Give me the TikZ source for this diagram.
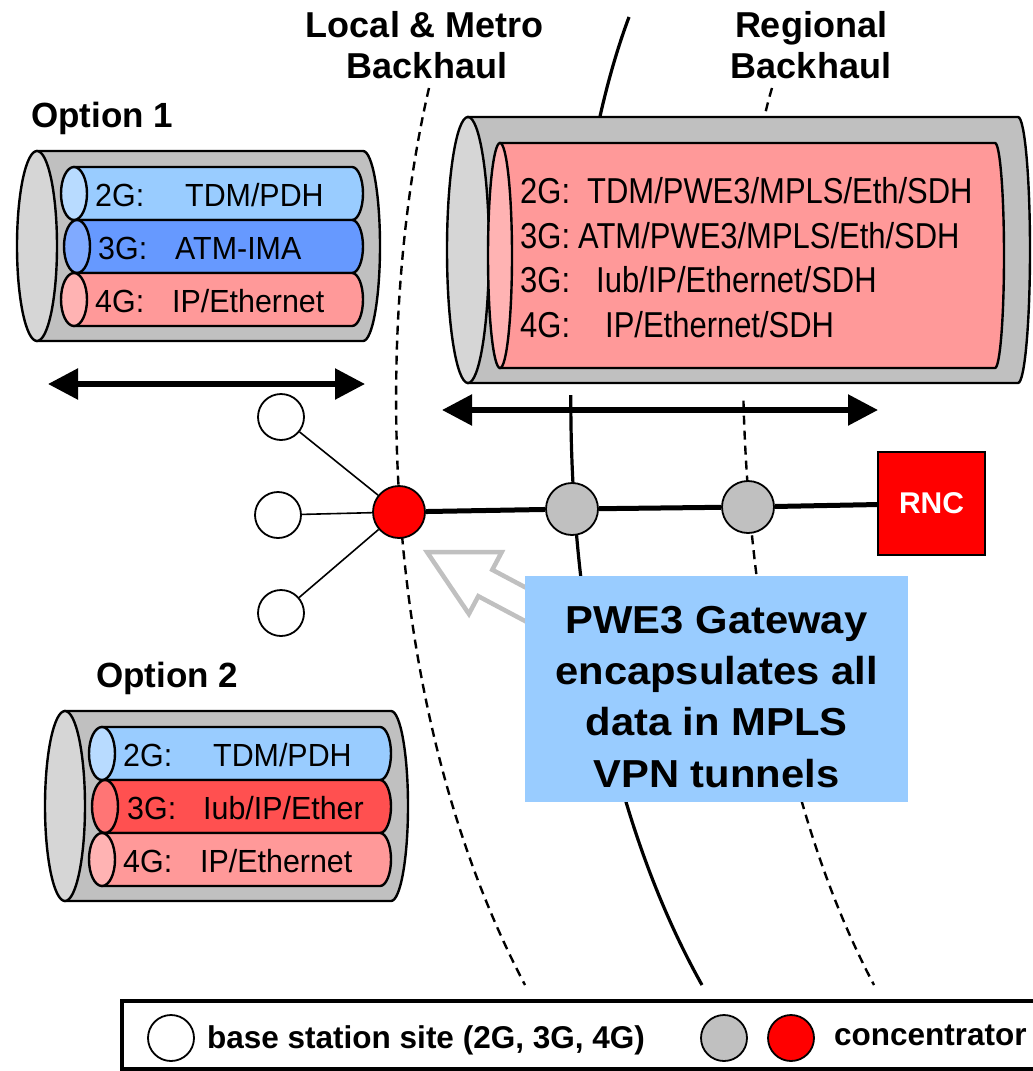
\documentclass[tikz,border=0pt]{standalone}
\usepackage{fontspec}
\setmainfont{Liberation Sans}
\newfontfamily\tubefont[FakeStretch=0.95]{Liberation Sans}
\newfontfamily\trunkfont[FakeStretch=0.86]{Liberation Sans}
\newfontfamily\notefont[FakeStretch=1.07]{Liberation Sans}
\usetikzlibrary{arrows.meta}

\definecolor{tubesky}{HTML}{99CCFF}
\definecolor{tubeskyface}{HTML}{B8DBFF}
\definecolor{tubeblue}{HTML}{6699FF}
\definecolor{tubeblueface}{HTML}{80AAFF}
\definecolor{tubepink}{HTML}{FF9999}
\definecolor{tubepinkface}{HTML}{FFB3B3}
\definecolor{tubered}{HTML}{FF5050}
\definecolor{tuberedface}{HTML}{FF7575}
\definecolor{shellgray}{HTML}{C0C0C0}
\definecolor{shellface}{HTML}{D6D6D6}
\definecolor{hubgray}{HTML}{C0C0C0}
\definecolor{hubred}{HTML}{FF0000}
\definecolor{notefill}{HTML}{99CCFF}

\newcommand\fsz[1]{\fontsize{#1}{#1}\selectfont}

\tikzset{
  every node/.style={inner sep=0pt},
  zone/.style={line width=2.4pt, dash pattern=on 9pt off 6pt},
  border/.style={line width=3.2pt},
  shell/.style={draw=black, line width=2.4pt, fill=shellgray},
  tubeline/.style={draw=black, line width=2.4pt},
  lbl/.style={anchor=base west, font=\tubefont\fsz{32}},
  biglbl/.style={anchor=base west, font=\trunkfont\fsz{36}},
  head/.style={anchor=base, font=\bfseries\fsz{36}},
  opt/.style={anchor=base west, font=\bfseries\fsz{35}},
  gwtext/.style={anchor=base, font=\notefont\bfseries\fsz{39}},
  legtext/.style={anchor=base west, font=\bfseries\fsz{31.5}},
  span/.style={line width=5.5pt,
    {Triangle[length=30pt,width=30pt]}-{Triangle[length=30pt,width=30pt]}},
  site/.style={circle, draw=black, line width=1.8pt, fill=white, minimum size=46pt},
  hub/.style={circle, draw=black, line width=1.8pt, minimum size=52pt},
  access/.style={line width=1.6pt},
  trunk/.style={line width=5pt},
  rncbox/.style={rectangle, draw=black, line width=1.6pt, fill=hubred,
    minimum width=107pt, minimum height=103pt, text=white, font=\bfseries\fsz{30}},
  gwbox/.style={rectangle, fill=notefill, minimum width=383pt, minimum height=226pt},
  hollow/.style={draw=shellgray, line width=4.5pt, line join=miter},
  frame/.style={draw=black, line width=3.8pt},
}

% one coloured tube: #1 top edge, #2 centre of its end face, #3 body colour, #4 face colour
\newcommand\drawtube[4]{%
  \draw[tubeline, fill=#3] (#2,#1) -- (352,#1)
    arc[start angle=90, end angle=-90, x radius=11pt, y radius=26.5pt]
    -- (#2,#1+53) -- cycle;
  \draw[tubeline, fill=#4] (#2,#1+26.5) ellipse[x radius=13pt, y radius=26.5pt];
}
% access cable with three tubes: #1 / #2 body and face colour of the middle tube
\newcommand\drawbundle[2]{%
  \draw[shell] (37,151) -- (363,151)
    arc[start angle=90, end angle=-90, x radius=17pt, y radius=95pt]
    -- (37,341) -- cycle;
  \draw[shell, fill=shellface] (37,246) ellipse[x radius=20pt, y radius=95pt];
  \drawtube{167}{74}{tubesky}{tubeskyface}
  \drawtube{220}{77}{#1}{#2}
  \drawtube{273}{74}{tubepink}{tubepinkface}
}

\begin{document}
\begin{tikzpicture}[x=1pt, y=-1pt]
\path[use as bounding box, clip] (0,0) rectangle (1033,1071);
\fill[white] (0,0) rectangle (1033,1071);

% backhaul zone boundaries
\draw[zone] (429,88) .. controls (375,320) and (375,700) .. (525,985);
\draw[border] (629,17) .. controls (542,250) and (542,700) .. (702,985);
\draw[zone] (772,88) .. controls (723,250) and (723,700) .. (874,985);
% clearance below the regional cable
\fill[white] (440,383) rectangle (1033,395);

% regional backhaul cable
\draw[shell] (468,117) -- (1018,117)
  arc[start angle=90, end angle=-90, x radius=12pt, y radius=133pt]
  -- (468,383) -- cycle;
\draw[shell, fill=shellface] (468,250) ellipse[x radius=21pt, y radius=133pt];
\draw[tubeline, fill=tubepink] (500,143) -- (995,143)
  arc[start angle=90, end angle=-90, x radius=9pt, y radius=112.5pt]
  -- (500,368) -- cycle;
\draw[tubeline, fill=tubepinkface] (500,255.5) ellipse[x radius=12pt, y radius=112.5pt];

\node[biglbl] (r1a) at (520,203) {2G:};
\node[biglbl] (r1b) at (587,203) {TDM/PWE3/MPLS/Eth/SDH};
\node[biglbl] (r2a) at (520,248) {3G:};
\node[biglbl] (r2b) at (578,248) {ATM/PWE3/MPLS/Eth/SDH};
\node[biglbl] (r3a) at (520,292) {3G:};
\node[biglbl] (r3b) at (596,292) {Iub/IP/Ethernet/SDH};
\node[biglbl] (r4a) at (520,337) {4G:};
\node[biglbl] (r4b) at (605,337) {IP/Ethernet/SDH};

% reach of each cable
\coordinate (o1l) at (48,384);
\coordinate (o1r) at (365,384);
\draw[span] (o1l) -- (o1r);
\coordinate (rgl) at (442,410);
\coordinate (rgr) at (878,410);
\draw[span] (rgl) -- (rgr);

% network
\node[site] (bs1) at (281,417) {};
\node[site] (bs2) at (278,515) {};
\node[site] (bs3) at (281,613) {};
\node[hub, fill=hubred] (pe) at (399,512) {};
\node[hub, fill=hubgray] (c1) at (572,509) {};
\node[hub, fill=hubgray] (c2) at (748,507) {};
\node[rncbox] (rnc) at (931.5,503.5) {RNC};
\draw[access] (bs1) -- (pe);
\draw[access] (bs2) -- (pe);
\draw[access] (bs3) -- (pe);
\draw[trunk] (pe) -- (c1) -- (c2) -- (rnc);

% hollow pointer towards the gateway
\draw[hollow] (427,552) -- (501.7,552.1) -- (492.3,569.8) -- (610.6,632.6)
  -- (596.6,659) -- (478.3,596.2) -- (468.9,613.9) -- cycle;

% gateway note
\node[gwbox] (gw) at (716.5,689) {};
\node[gwtext] (gw1) at (716.5,633) {PWE3 Gateway};
\node[gwtext] (gw2) at (716.5,684) {encapsulates all};
\node[gwtext] (gw3) at (716.5,735) {data in MPLS};
\node[gwtext] (gw4) at (716.5,787) {VPN tunnels};

% option 1 access cable
\drawbundle{tubeblue}{tubeblueface}
\node[lbl] (a1a) at (95,206) {2G:};
\node[lbl] (a1b) at (185,206) {TDM/PDH};
\node[lbl] (a2a) at (98,259) {3G:};
\node[lbl] (a2b) at (175,259) {ATM-IMA};
\node[lbl] (a3a) at (95,312) {4G:};
\node[lbl] (a3b) at (172,312) {IP/Ethernet};

% option 2 access cable
\begin{scope}[shift={(28,560)}]
  \drawbundle{tubered}{tuberedface}
  \node[lbl] (b1a) at (95,206) {2G:};
  \node[lbl] (b1b) at (185,206) {TDM/PDH};
  \node[lbl] (b2a) at (99,259) {3G:};
  \node[lbl] (b2b) at (175,259) {Iub/IP/Ether};
  \node[lbl] (b3a) at (95,312) {4G:};
  \node[lbl] (b3b) at (172,312) {IP/Ethernet};
\end{scope}

% headings
\node[head] (lm1) at (425,37) {Local \& Metro};
\node[head] (lm2) at (427,78) {Backhaul};
\node[head] (rg1) at (811,37) {Regional};
\node[head] (rg2) at (811,78) {Backhaul};
\node[opt] (op1) at (31,127) {Option 1};
\node[opt] (op2) at (96,687) {Option 2};

% legend
\draw[frame] (122,1001) rectangle (1045,1069);
\node[site] (k1) at (171,1038) {};
\node[legtext] (k1t) at (207,1048) {base station site (2G, 3G, 4G)};
\node[hub, fill=hubgray, minimum size=46pt] (k2) at (724,1038) {};
\node[hub, fill=hubred, minimum size=46pt] (k3) at (791,1038) {};
\node[legtext] (k3t) at (834,1045) {concentrator};
\end{tikzpicture}
\end{document}
